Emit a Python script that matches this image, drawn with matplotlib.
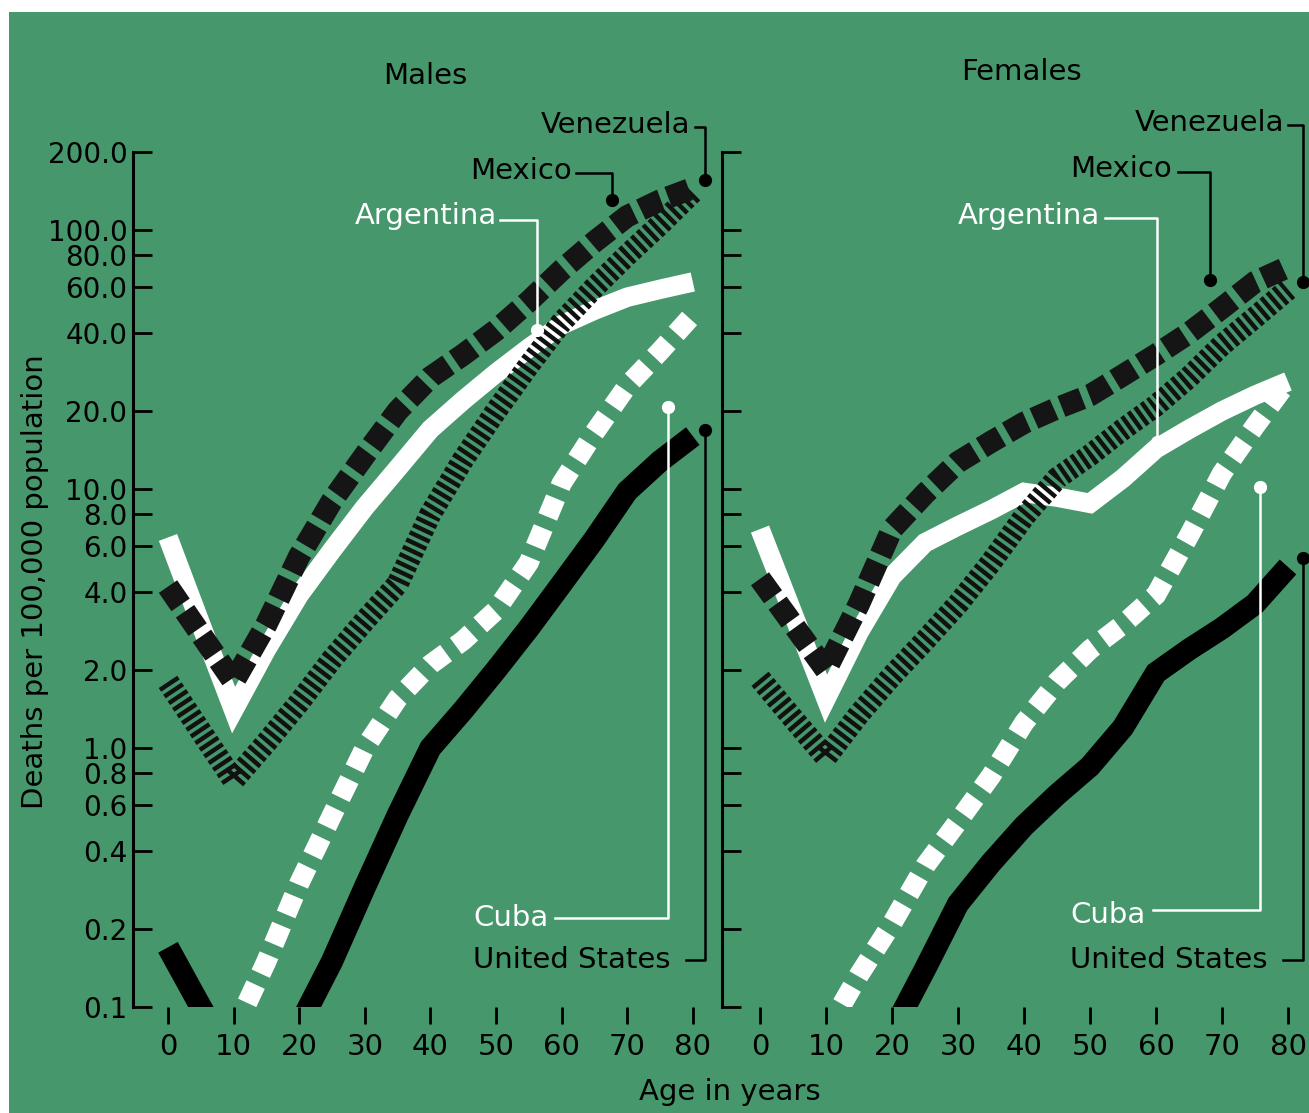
import numpy as np
import matplotlib
matplotlib.use('Agg')
import matplotlib.pyplot as plt
from matplotlib.patches import Rectangle
from matplotlib.ticker import FixedLocator, NullLocator

W, H = 1309, 1113
green = '#46976b'
nan = np.nan

# deaths per 100,000 population, by age
ages = [0, 5, 10, 15, 20, 25, 30, 35, 40, 45, 50, 55, 60, 65, 70, 75, 80]

males_venezuela = [1.8, 1.16, 0.75, 1.05, 1.5, 2.2, 3.1, 4.3, 8.0, 13, 20, 30, 44, 60, 80, 105, 140]
males_mexico = [4.2, 2.75, 1.8, 3.0, 5.5, 9.0, 13.5, 20, 27, 33, 41, 53, 70, 90, 113, 130, 145]
males_argentina = [6.5, 3.0, 1.4, 2.4, 3.9, 5.8, 8.5, 12, 17, 22, 28, 35, 43, 49, 55, 59, 63]
males_cuba = [nan, nan, 0.08, 0.15, 0.3, 0.55, 1.0, 1.55, 2.1, 2.6, 3.4, 5.2, 10.5, 16.5, 25, 34, 47]
males_us = [0.17, 0.1, 0.06, 0.06, 0.085, 0.15, 0.29, 0.55, 1.0, 1.4, 2.0, 2.9, 4.3, 6.4, 9.8, 12.8, 16]

females_venezuela = [1.85, 1.3, 0.92, 1.35, 1.9, 2.6, 3.6, 5.2, 7.8, 11, 13.5, 17, 21, 27, 36, 46, 59]
females_mexico = [4.5, 3.0, 2.0, 3.6, 7.0, 9.6, 12.7, 15.2, 18, 20.5, 23, 27.5, 33, 40, 50, 63, 72]
females_argentina = [7.0, 3.3, 1.55, 2.8, 4.6, 6.2, 7.2, 8.3, 9.7, 9.3, 8.8, 11, 14.3, 17, 20, 23, 26]
females_cuba = [nan, nan, 0.08, 0.133, 0.21, 0.35, 0.52, 0.78, 1.25, 1.8, 2.4, 3.0, 3.9, 6.6, 11.5, 17.5, 26]
females_us = [nan, nan, nan, 0.05, 0.08, 0.14, 0.25, 0.36, 0.5, 0.66, 0.85, 1.2, 1.95, 2.4, 2.9, 3.6, 5.0]

yticks = [0.1, 0.2, 0.4, 0.6, 0.8, 1, 2, 4, 6, 8, 10, 20, 40, 60, 80, 100, 200]
xticks = [0, 10, 20, 30, 40, 50, 60, 70, 80]

styles = {
    'United States': dict(color='black', lw=16, zorder=2),
    'Cuba': dict(color='white', lw=14.5, dashes=(1.0, 0.6), zorder=3),
    'Argentina': dict(color='white', lw=14, zorder=4),
    'Venezuela': dict(color='#111111', lw=16, dashes=(0.2, 0.16), zorder=5),
    'Mexico': dict(color='#151515', lw=16, dashes=(1.0, 0.35), zorder=6),
}
label_color = {'United States': 'black', 'Cuba': 'white', 'Argentina': 'white',
               'Venezuela': 'black', 'Mexico': 'black'}

# label text anchor, leader path and end dot (age, rate)
males_labels = [
    ('Venezuela', (79.6, 237), 'right', [(80.3, 250), (81.8, 250), (81.8, 156)]),
    ('Mexico', (61.6, 157), 'right', [(62.2, 166), (67.7, 166), (67.7, 131)]),
    ('Argentina', (50.2, 105), 'right', [(50.6, 109), (56.25, 109), (56.25, 41)]),
    ('Cuba', (46.5, 0.2055), 'left', [(59.0, 0.2207), (76.2, 0.2207), (76.2, 20.7)]),
    ('United States', (46.5, 0.1416), 'left', [(79.0, 0.152), (81.8, 0.152), (81.8, 16.9)]),
]
females_labels = [
    ('Venezuela', (79.4, 241), 'right', [(80.0, 254), (82.3, 254), (82.3, 63)]),
    ('Mexico', (62.4, 160), 'right', [(63.3, 168), (68.2, 168), (68.2, 64)]),
    ('Argentina', (51.5, 105), 'right', [(52.3, 111), (60.15, 111), (60.15, 15.2)]),
    ('Cuba', (47.0, 0.211), 'left', [(59.5, 0.2368), (75.8, 0.2368), (75.8, 10.2)]),
    ('United States', (47.0, 0.1416), 'left', [(79.2, 0.152), (82.3, 0.152), (82.3, 5.42)]),
]


def setup(ax, xmin, xmax, show_labels):
    ax.set_yscale('log')
    ax.set_ylim(0.1, 200)
    ax.set_xlim(xmin, xmax)
    ax.patch.set_visible(False)
    for s in ['top', 'right', 'bottom']:
        ax.spines[s].set_visible(False)
    ax.spines['left'].set_linewidth(2.2)
    ax.yaxis.set_major_locator(FixedLocator(yticks))
    ax.yaxis.set_minor_locator(NullLocator())
    ax.set_yticklabels(['%.1f' % v for v in yticks])
    ax.tick_params(axis='y', direction='in', length=14, width=2, labelsize=20,
                   pad=4, labelleft=show_labels)
    ax.set_xticks(xticks)
    ax.set_xticklabels([str(a) for a in xticks])
    ax.tick_params(axis='x', direction='out', length=12, width=2, labelsize=21, pad=7)


def draw_panel(ax, series, labels):
    for name, vals in series:
        st = dict(styles[name])
        dashes = st.pop('dashes', None)
        line, = ax.plot(ages, vals, solid_capstyle='butt', dash_capstyle='butt',
                        solid_joinstyle='miter', dash_joinstyle='miter', **st)
        if dashes:
            line.set_dashes(dashes)
    for name, (tx, ty), ha, path in labels:
        c = label_color[name]
        ax.text(tx, ty, name, color=c, ha=ha, va='baseline', fontsize=21, clip_on=False)
        xs, ys = zip(*path)
        ax.plot(xs, ys, color=c, lw=1.8, clip_on=False, zorder=7)
        ax.plot(xs[-1], ys[-1], 'o', color=c, ms=8.5, clip_on=False, zorder=7)


fig = plt.figure(figsize=(W / 100, H / 100), dpi=100)
fig.patch.set_facecolor('white')
fig.patches.append(Rectangle((9 / W, 0), 1, 1 - 12 / H, transform=fig.transFigure,
                             facecolor=green, edgecolor='none', zorder=-10))

bottom = 1 - 1007 / H
height = (1007 - 152) / H
ax1 = fig.add_axes([133 / W, bottom, 580 / W, height])
ax2 = fig.add_axes([722 / W, bottom, 587 / W, height])
setup(ax1, -35 / 6.56, 580 / 6.56 - 35 / 6.56, True)
setup(ax2, -38 / 6.6, 587 / 6.6 - 38 / 6.6, False)

draw_panel(ax1, [('United States', males_us), ('Cuba', males_cuba),
                 ('Argentina', males_argentina), ('Venezuela', males_venezuela),
                 ('Mexico', males_mexico)], males_labels)
draw_panel(ax2, [('United States', females_us), ('Cuba', females_cuba),
                 ('Argentina', females_argentina), ('Venezuela', females_venezuela),
                 ('Mexico', females_mexico)], females_labels)

fig.text(425 / W, 1 - 84 / H, 'Males', ha='center', va='baseline', fontsize=21)
fig.text(1021 / W, 1 - 80 / H, 'Females', ha='center', va='baseline', fontsize=21)
fig.text(35 / W, 1 - 582 / H, 'Deaths per 100,000 population', rotation=90,
         ha='center', va='center', fontsize=21)
fig.text(730 / W, 1 - 1100 / H, 'Age in years', ha='center', va='baseline', fontsize=21)

fig.savefig('out.png', dpi=100, facecolor=fig.get_facecolor())
